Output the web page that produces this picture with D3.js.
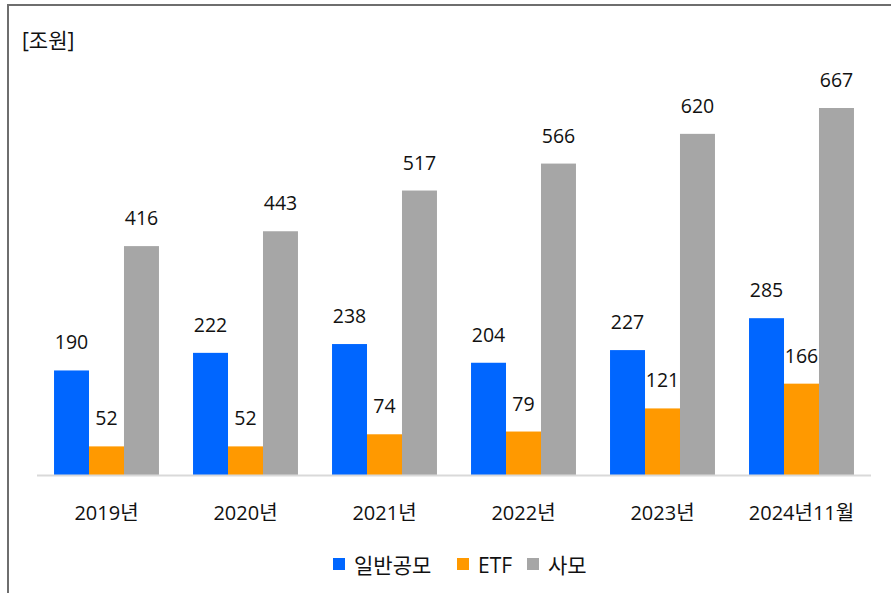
<!DOCTYPE html>
<html><head><meta charset="utf-8">
<script src="https://cdn.jsdelivr.net/npm/d3@7"></script>
<style>body{margin:0;background:#fff}text{font-family:"Open Sans","Noto Sans CJK KR",sans-serif;fill:#111}</style>
</head><body><svg id="c" width="891" height="593"></svg>
<script>
const categories = ["2019년","2020년","2021년","2022년","2023년","2024년11월"];
const seriesNames = ["일반공모","ETF","사모"];
const seriesColors = ["#0066ff","#ff9900","#a6a6a6"];
const publicFund = [190,222,238,204,227,285];
const etf = [52,52,74,79,121,166];
const privateFund = [416,443,517,566,620,667];
const unitLabel = "[조원]";
const seriesValues = [publicFund, etf, privateFund];

const svg = d3.select("#c");
svg.append("rect").attr("x",8).attr("y",5).attr("width",900).attr("height",600)
  .attr("fill","none").attr("stroke","#6e6e6e").attr("stroke-width",2);

const baseY = 475;
const x0 = d3.scaleBand().domain(categories).range([37,871]).paddingInner(0.245).paddingOuter(0.1225);
const x1 = d3.scaleBand().domain(seriesNames).range([0,x0.bandwidth()]);
const y = d3.scaleLinear().domain([0,667]).range([baseY,108]);

const g = svg.append("g");
categories.forEach((c,i)=>{
  seriesNames.forEach((s,j)=>{
    const v = seriesValues[j][i];
    const bx = x0(c)+x1(s);
    g.append("rect").attr("x",bx).attr("y",y(v)).attr("width",x1.bandwidth()).attr("height",baseY-y(v))
      .attr("fill",seriesColors[j]);
    g.append("text").attr("x",bx+x1.bandwidth()/2).attr("y",y(v)-21).attr("text-anchor","middle")
      .attr("font-size",19.5).text(v);
  });
});
svg.append("line").attr("x1",37).attr("x2",871).attr("y1",baseY+0.5).attr("y2",baseY+0.5)
  .attr("stroke","#d9d9d9").attr("stroke-width",2);

const xa = svg.append("g").attr("transform",`translate(0,${baseY})`)
  .call(d3.axisBottom(x0).tickSize(0).tickPadding(0));
xa.select(".domain").remove();
xa.selectAll("text").attr("font-size",20).attr("dy",0).attr("y",45).style("fill","#111")
  .attr("font-family","'Open Sans','Noto Sans CJK KR',sans-serif");

svg.append("text").attr("x",22).attr("y",48).attr("font-size",21).text(unitLabel);

const legX = [333,457,527];
seriesNames.forEach((s,j)=>{
  svg.append("rect").attr("x",legX[j]).attr("y",558).attr("width",12).attr("height",12).attr("fill",seriesColors[j]);
  svg.append("text").attr("x",legX[j]+21).attr("y",573).attr("font-size",21).text(s);
});
</script></body></html>
